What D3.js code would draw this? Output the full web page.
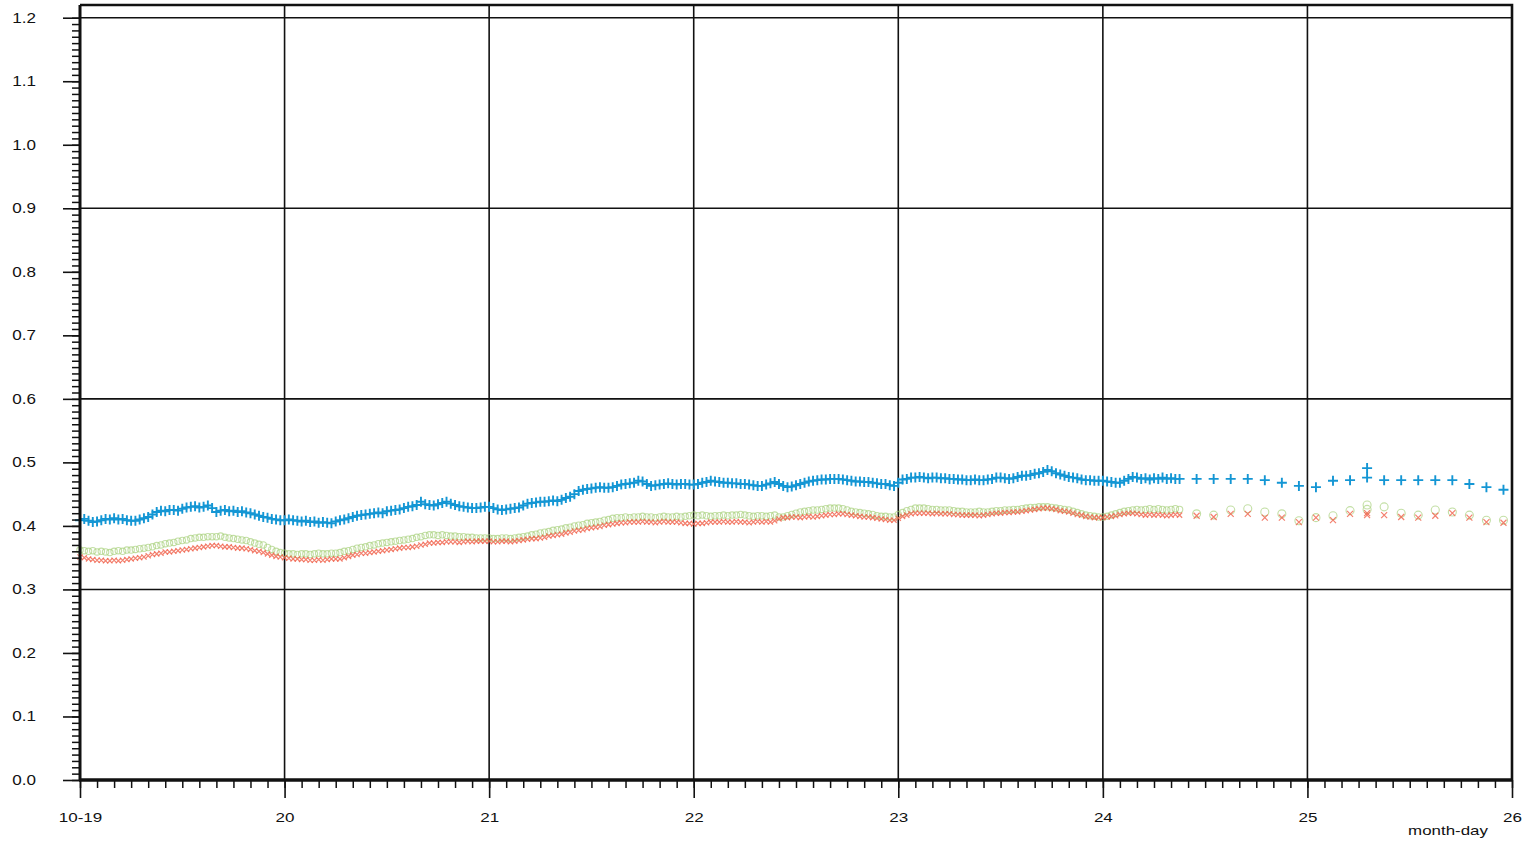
<!DOCTYPE html>
<html>
<head>
<meta charset="utf-8">
<script src="https://cdn.jsdelivr.net/npm/d3@7"></script>
<style>
  body { margin: 0; background: #fff; }
  svg { display: block; }
  text { font-family: "Liberation Sans", Arial, sans-serif; fill: #111; }
</style>
</head>
<body>
<svg id="chart"></svg>
<script>
// x labels for each day tick (hours from 10-19 00:00)
const dayLabels = ["10-19", "20", "21", "22", "23", "24", "25", "26"];
const yTicks = [0.0, 0.1, 0.2, 0.3, 0.4, 0.5, 0.6, 0.7, 0.8, 0.9, 1.0, 1.1, 1.2];
const yGrid = [0.3, 0.6, 0.9, 1.2];

// dense part: one value every 30 min from 10-19 00:00 up to 24 09:00
const blueDense = [
  .409,.411,.408,.406,.407,.409,.411,.410,.412,.410,.411,.409,.408,.408,.410,.412,.414,.418,.422,.424,.423,.425,.425,.424,
  .427,.429,.430,.431,.429,.430,.432,.428,.422,.424,.425,.423,.424,.422,.423,.421,.420,.418,.416,.414,.413,.411,.410,.409,
  .409,.410,.409,.408,.407,.408,.406,.407,.405,.406,.405,.404,.407,.409,.410,.412,.414,.416,.417,.418,.419,.420,.421,.420,
  .423,.424,.425,.426,.428,.430,.431,.433,.438,.434,.433,.432,.434,.436,.438,.435,.433,.431,.430,.429,.428,.428,.429,.430,
  .430,.428,.426,.425,.426,.427,.428,.429,.432,.435,.436,.437,.438,.438,.439,.440,.439,.441,.444,.446,.450,.455,.457,.458,
  .459,.460,.461,.460,.460,.461,.463,.465,.466,.467,.468,.471,.470,.466,.463,.464,.465,.466,.467,.466,.465,.466,.466,.465,
  .465,.466,.468,.469,.471,.470,.469,.468,.468,.467,.467,.466,.466,.465,.464,.463,.463,.465,.467,.469,.466,.463,.461,.462,
  .464,.466,.468,.470,.471,.472,.473,.473,.474,.474,.474,.473,.472,.471,.470,.470,.469,.469,.468,.467,.466,.466,.464,.463,
  .468,.473,.474,.476,.476,.477,.476,.475,.476,.476,.475,.475,.474,.474,.473,.473,.472,.472,.473,.472,.472,.473,.474,.476,
  .476,.475,.474,.475,.477,.479,.479,.480,.482,.483,.485,.488,.486,.483,.481,.479,.477,.476,.475,.473,.472,.472,.471,.471,
  .471,.470,.469,.468,.468,.471,.474,.477,.476,.474,.475,.473,.475,.474,.476,.474,.475,.474,.474
];
const greenDense = [
  .362,.361,.360,.361,.359,.360,.359,.358,.360,.361,.360,.362,.362,.363,.364,.365,.366,.367,.369,.370,.372,.373,.374,.376,
  .377,.378,.380,.381,.382,.382,.383,.383,.383,.384,.382,.381,.380,.379,.378,.377,.375,.373,.371,.370,.366,.363,.360,.358,
  .357,.356,.356,.355,.356,.356,.355,.356,.357,.356,.356,.357,.357,.358,.360,.361,.363,.365,.366,.367,.369,.370,.372,.373,
  .374,.375,.376,.377,.378,.379,.380,.382,.383,.385,.386,.386,.385,.386,.385,.384,.384,.383,.383,.382,.382,.381,.381,.381,
  .381,.380,.380,.381,.381,.380,.381,.382,.383,.384,.386,.387,.389,.390,.391,.393,.394,.395,.397,.398,.400,.401,.402,.404,
  .405,.406,.407,.409,.410,.412,.413,.413,.414,.413,.414,.414,.415,.414,.414,.413,.414,.415,.414,.414,.415,.414,.415,.416,
  .417,.416,.417,.416,.415,.416,.416,.417,.416,.417,.417,.418,.417,.416,.415,.416,.416,.415,.416,.417,.414,.414,.416,.418,
  .420,.422,.423,.424,.425,.425,.426,.427,.428,.428,.428,.427,.425,.423,.422,.421,.420,.419,.418,.416,.415,.415,.414,.414,
  .418,.421,.424,.426,.428,.428,.428,.427,.426,.426,.425,.425,.425,.424,.423,.423,.422,.422,.422,.423,.422,.422,.423,.424,
  .424,.425,.425,.426,.426,.427,.428,.429,.429,.430,.430,.430,.429,.428,.427,.426,.425,.423,.421,.419,.417,.416,.415,.414,
  .414,.415,.417,.419,.421,.423,.424,.425,.426,.425,.426,.427,.426,.427,.426,.425,.426,.427,.426
];
const redDense = [
  .351,.350,.348,.347,.346,.346,.345,.345,.346,.345,.346,.347,.348,.349,.350,.351,.353,.355,.356,.357,.359,.359,.360,.361,
  .362,.363,.364,.365,.366,.367,.368,.369,.369,.368,.367,.367,.366,.365,.365,.364,.363,.361,.360,.358,.356,.354,.352,.351,
  .350,.349,.348,.348,.347,.347,.346,.346,.347,.346,.347,.348,.348,.348,.350,.352,.354,.355,.357,.357,.358,.359,.360,.361,
  .362,.363,.364,.365,.366,.366,.367,.368,.370,.371,.373,.373,.374,.374,.375,.375,.375,.374,.375,.376,.375,.376,.376,.376,
  .376,.375,.375,.376,.376,.375,.376,.377,.378,.379,.380,.380,.381,.382,.384,.385,.386,.387,.389,.390,.392,.393,.394,.396,
  .397,.398,.399,.401,.402,.403,.404,.405,.405,.406,.406,.406,.407,.406,.406,.405,.406,.407,.406,.406,.406,.405,.404,.404,
  .403,.404,.404,.405,.406,.406,.406,.407,.406,.406,.407,.406,.406,.405,.406,.407,.406,.407,.406,.408,.411,.413,.413,.414,
  .414,.413,.414,.415,.414,.415,.416,.417,.418,.418,.419,.419,.418,.417,.416,.415,.414,.414,.413,.412,.411,.410,.409,.409,
  .412,.415,.417,.419,.420,.420,.420,.420,.419,.420,.419,.419,.419,.418,.418,.417,.417,.417,.417,.416,.417,.418,.419,.420,
  .420,.421,.421,.422,.422,.423,.424,.425,.426,.427,.428,.428,.427,.426,.424,.423,.422,.420,.418,.417,.415,.414,.413,.413,
  .413,.414,.415,.416,.418,.419,.420,.420,.419,.418,.417,.418,.417,.418,.417,.416,.417,.418,.417
];

// sparse part: every 2 hours from 24 11:00 (hours since 10-19 00:00)
const sparseHours = [131, 133, 135, 137, 139, 141, 143, 145, 147, 149, 151, 151, 153, 155, 157, 159, 161, 163, 165, 167];
const blueSparse  = [.474, .474, .474, .474, .472, .468, .463, .461, .471, .472, .491, .476, .472, .472, .472, .472, .472, .466, .461, .457];
const greenSparse = [.419, .417, .425, .427, .422, .419, .408, .413, .416, .424, .433, .426, .430, .420, .417, .425, .422, .417, .409, .409];
const redSparse   = [.416, .414, .419, .419, .413, .413, .406, .413, .409, .419, .420, .417, .417, .414, .413, .416, .420, .413, .406, .405];

const width = 1523, height = 841;
const plotLeft = 80, plotRight = 1512, plotTop = 5, plotBottom = 780;

const svg = d3.select("#chart").attr("width", width).attr("height", height);

const x = d3.scaleLinear().domain([0, 168]).range([plotLeft, plotRight]);
const y = d3.scaleLinear().domain([0, 1.22]).range([plotBottom, plotTop]);

const dayHours = dayLabels.map((d, i) => i * 24);

// grid
svg.append("g").selectAll("line").data(yGrid).join("line")
  .attr("x1", plotLeft).attr("x2", plotRight)
  .attr("y1", d => y(d)).attr("y2", d => y(d))
  .attr("stroke", "#111").attr("stroke-width", 1.6);
svg.append("g").selectAll("line").data(dayHours.slice(1, -1)).join("line")
  .attr("x1", d => x(d)).attr("x2", d => x(d))
  .attr("y1", plotTop).attr("y2", plotBottom)
  .attr("stroke", "#111").attr("stroke-width", 1.6);

// frame: top and right
svg.append("path")
  .attr("d", `M${plotLeft},${plotTop}H${plotRight}V${plotBottom}`)
  .attr("fill", "none").attr("stroke", "#111").attr("stroke-width", 2.6);

// data
function toPoints(vals, hours) {
  return vals.map((v, i) => ({ h: hours ? hours[i] : i * 0.5, v: v }));
}
const green = toPoints(greenDense).concat(toPoints(greenSparse, sparseHours));
const red = toPoints(redDense).concat(toPoints(redSparse, sparseHours));
const blue = toPoints(blueDense).concat(toPoints(blueSparse, sparseHours));

svg.append("g").selectAll("circle").data(green).join("circle")
  .attr("cx", d => x(d.h)).attr("cy", d => y(d.v))
  .attr("r", d => d.h > 130 ? 4 : 3.2)
  .attr("fill", "none").attr("stroke", "#a9d27f").attr("stroke-opacity", 0.7).attr("stroke-width", 1.1);

svg.append("g").selectAll("path").data(red).join("path")
  .attr("transform", d => `translate(${x(d.h)},${y(d.v)})`)
  .attr("d", d => d.h > 130 ? "M-3,-3L3,3M-3,3L3,-3" : "M-2.6,-2.6L2.6,2.6M-2.6,2.6L2.6,-2.6")
  .attr("fill", "none").attr("stroke", "#f0604a").attr("stroke-opacity", 0.8).attr("stroke-width", 1.2);

svg.append("g").selectAll("path").data(blue).join("path")
  .attr("transform", d => `translate(${x(d.h)},${y(d.v)})`)
  .attr("d", "M-5,0H5M0,-5V5")
  .attr("fill", "none").attr("stroke", "#1496d4").attr("stroke-width", 1.9);

// y axis
const yStretch = 1.22;
const yAxis = svg.append("g").attr("transform", `translate(${plotLeft},0)`)
  .call(d3.axisLeft(y).tickValues(yTicks).tickSize(17).tickFormat(d3.format(".1f")));
yAxis.select(".domain").remove();
yAxis.selectAll(".tick line").attr("stroke", "#111").attr("stroke-width", 1.6);
yAxis.selectAll("text")
  .attr("x", -44 / yStretch)
  .attr("transform", `scale(${yStretch},1)`)
  .attr("font-size", 14).attr("fill", "#222");

const yMinor = svg.append("g").attr("transform", `translate(${plotLeft},0)`)
  .call(d3.axisLeft(y).tickValues(d3.range(0, 121).map(i => i / 100)).tickSize(8).tickFormat(""));
yMinor.select(".domain").remove();
yMinor.selectAll(".tick line").attr("stroke", "#111").attr("stroke-width", 1.5);

// x axis
const xAxis = svg.append("g").attr("transform", `translate(0,${plotBottom})`)
  .call(d3.axisBottom(x).tickValues(dayHours).tickSize(18).tickPadding(15)
    .tickFormat((d, i) => dayLabels[i]));
xAxis.select(".domain").remove();
xAxis.selectAll(".tick line").attr("stroke", "#111").attr("stroke-width", 1.6);
xAxis.selectAll("text")
  .attr("transform", "scale(1.42,1)")
  .attr("font-size", 12).attr("fill", "#222");

const xMinor = svg.append("g").attr("transform", `translate(0,${plotBottom})`)
  .call(d3.axisBottom(x).tickValues(d3.range(0, 169, 2)).tickSize(8).tickFormat(""));
xMinor.select(".domain").remove();
xMinor.selectAll(".tick line").attr("stroke", "#111").attr("stroke-width", 1.5);

// axis lines
svg.append("line").attr("x1", plotLeft).attr("x2", plotLeft).attr("y1", plotTop).attr("y2", plotBottom + 1)
  .attr("stroke", "#111").attr("stroke-width", 3);
svg.append("line").attr("x1", plotLeft - 1).attr("x2", plotRight + 1).attr("y1", plotBottom).attr("y2", plotBottom)
  .attr("stroke", "#111").attr("stroke-width", 3.4);

svg.append("text")
  .attr("transform", "translate(1448,835) scale(1.3,1)")
  .attr("text-anchor", "middle").attr("font-size", 13).attr("fill", "#222")
  .text("month-day");
</script>
</body>
</html>
